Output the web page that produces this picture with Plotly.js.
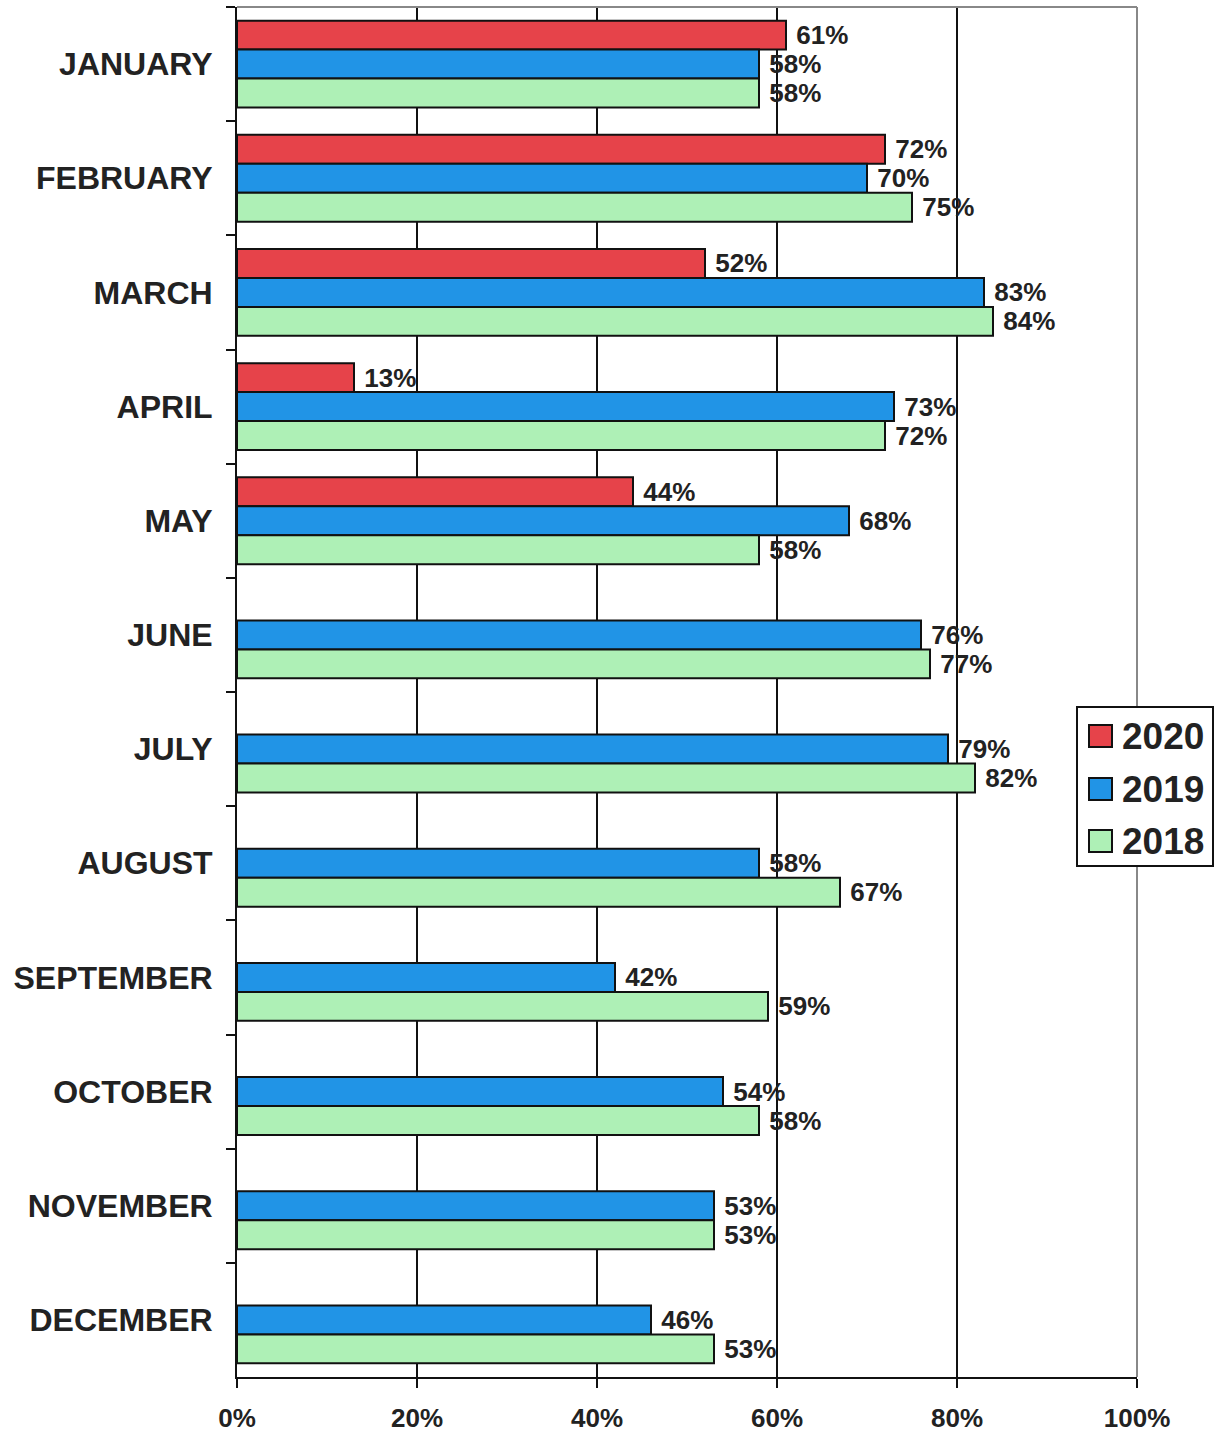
<!DOCTYPE html>
<html>
<head>
<meta charset="utf-8">
<script src="https://cdn.plot.ly/plotly-3.0.1.min.js"></script>
<style>html,body{margin:0;padding:0;background:#fff;}#chart{width:1215px;height:1432px;}</style>
</head>
<body>
<div id="chart"></div>
<script>
const months = ["JANUARY","FEBRUARY","MARCH","APRIL","MAY","JUNE","JULY","AUGUST","SEPTEMBER","OCTOBER","NOVEMBER","DECEMBER"];
const seriesNames = ["2020","2019","2018"];
const v2020 = [61,72,52,13,44,null,null,null,null,null,null,null];
const v2019 = [58,70,83,73,68,76,79,58,42,54,53,46];
const v2018 = [58,75,84,72,58,77,82,67,59,58,53,53];
const colors = ["#E6434A","#2194E6","#AEF0B6"];
const xTicks = [0,20,40,60,80,100];
const xTickText = ["0%","20%","40%","60%","80%","100%"];

const allVals = [v2020, v2019, v2018];
const traces = allVals.map((vals, i) => ({
  type: "bar",
  orientation: "h",
  name: seriesNames[i],
  y: months,
  x: vals,
  text: vals.map(v => v == null ? "" : "\u00A0" + v + "%"),
  textposition: "outside",
  constraintext: "none",
  cliponaxis: false,
  textfont: {family: "Liberation Sans, Arial, sans-serif", size: 26, color: "#222", weight: "bold"},
  marker: {color: colors[i], line: {color: "#111", width: 2}},
  showlegend: false,
  hoverinfo: "none"
}));

// plot geometry (px)
const W = 1215, H = 1432;
const mL = 237, mR = 78, mT = 7, mB = 55;
const pw = W - mL - mR, ph = H - mT - mB;
const px2x = p => (p - mL) / pw;
const py2y = p => (H - mB - p) / ph;

const shapes = [
  {type: "line", xref: "paper", yref: "paper", x0: 0, x1: 1, y0: 1, y1: 1, line: {color: "#888", width: 2}, layer: "above"},
  {type: "line", xref: "paper", yref: "paper", x0: 1, x1: 1, y0: 0, y1: 1, line: {color: "#888", width: 2}, layer: "above"},
  {type: "rect", xref: "paper", yref: "paper", x0: px2x(1077), x1: px2x(1213), y0: py2y(866), y1: py2y(707),
   fillcolor: "#fff", line: {color: "#111", width: 2}, layer: "above"}
];
const annotations = [];
const legendY = [736, 789, 841];
seriesNames.forEach((n, i) => {
  shapes.push({type: "rect", xref: "paper", yref: "paper", x0: px2x(1089), x1: px2x(1112),
    y0: py2y(legendY[i] + 11), y1: py2y(legendY[i] - 11), fillcolor: colors[i], line: {color: "#111", width: 2}, layer: "above"});
  annotations.push({xref: "paper", yref: "paper", x: px2x(1120), y: py2y(legendY[i]), xanchor: "left", yanchor: "middle",
    text: n, showarrow: false, font: {family: "Liberation Sans, Arial, sans-serif", size: 37, color: "#222", weight: "bold"}});
});

const layout = {
  width: W, height: H,
  margin: {l: mL, r: mR, t: mT, b: mB},
  paper_bgcolor: "#fff", plot_bgcolor: "#fff",
  barmode: "group", bargap: 0.24, bargroupgap: 0,
  showlegend: false,
  xaxis: {
    range: [0, 100], tickvals: xTicks, ticktext: xTickText,
    showgrid: true, gridcolor: "#111", gridwidth: 2,
    zeroline: false, showline: true, linecolor: "#111", linewidth: 2,
    ticks: "outside", ticklen: 9, tickwidth: 2, tickcolor: "#111",
    ticklabelstandoff: 8,
    tickfont: {family: "Liberation Sans, Arial, sans-serif", size: 26, color: "#222", weight: "bold"},
    fixedrange: true
  },
  yaxis: {
    type: "category", autorange: "reversed",
    showgrid: false, zeroline: false, showline: true, linecolor: "#111", linewidth: 2,
    ticks: "outside", tickson: "boundaries", ticklen: 9, tickwidth: 2, tickcolor: "#111",
    ticklabelstandoff: 16,
    tickfont: {family: "Liberation Sans, Arial, sans-serif", size: 32, color: "#222", weight: "bold"},
    fixedrange: true
  },
  shapes: shapes,
  annotations: annotations
};

Plotly.newPlot("chart", traces, layout, {displayModeBar: false, staticPlot: true});
</script>
</body>
</html>
